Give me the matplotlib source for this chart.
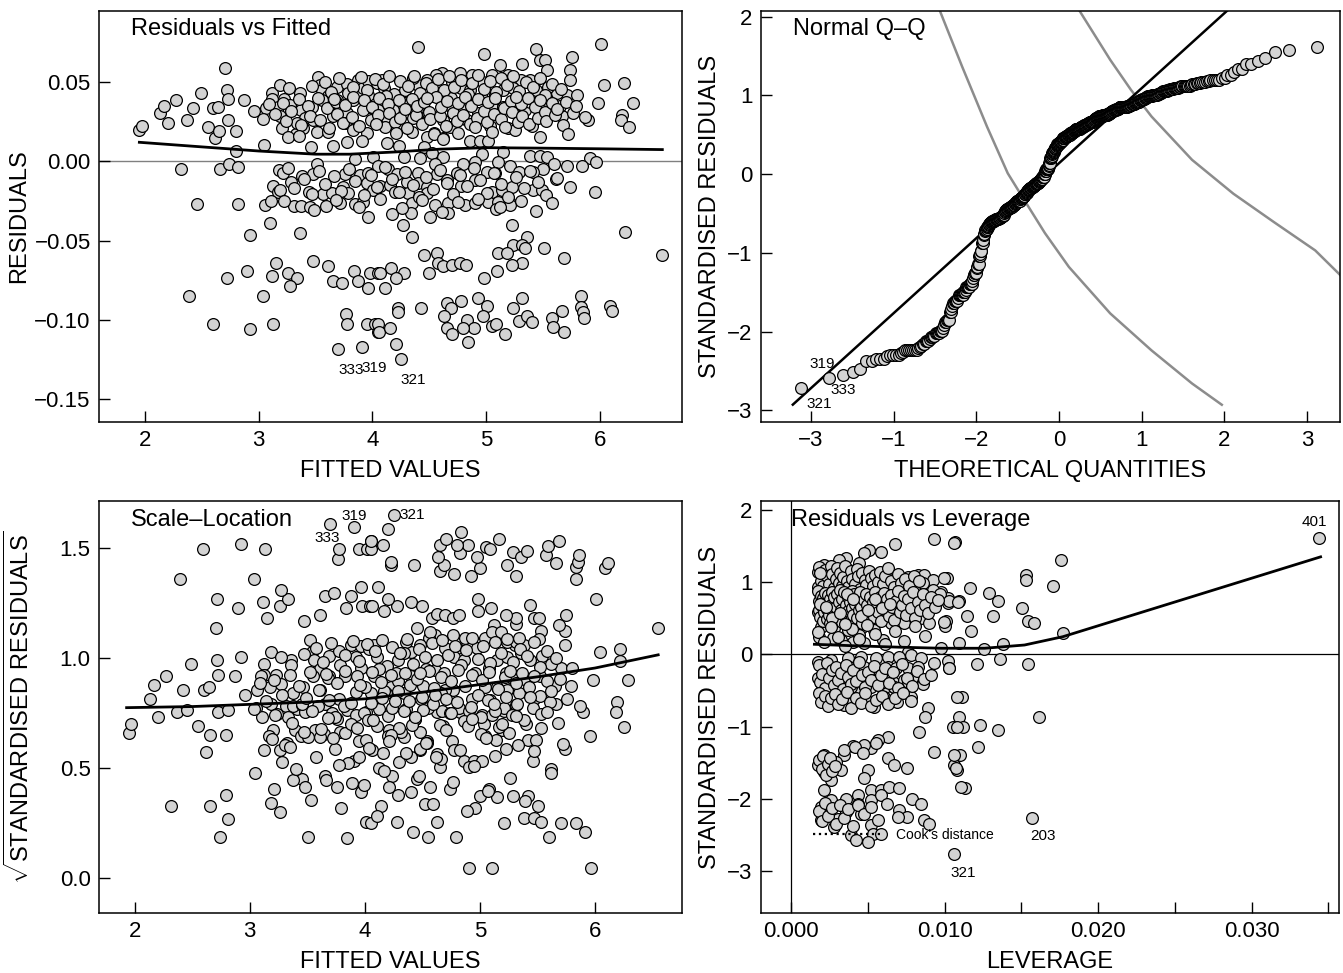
import statistics

import matplotlib

matplotlib.use("Agg")

import matplotlib.pyplot as plt
import numpy as np
from matplotlib.lines import Line2D

plt.rcParams["font.family"] = ["Liberation Sans", "DejaVu Sans"]
plt.rcParams["mathtext.fontset"] = "custom"
plt.rcParams["mathtext.rm"] = "Liberation Sans"
plt.rcParams["axes.unicode_minus"] = True

# ---- data ----
# fitted values / residuals, readable points first, then estimates for the overlapped clusters
FITTED = [
    1.950, 1.971, 2.132, 2.170, 2.205, 2.273, 2.372, 2.419, 2.492, 2.551, 2.601, 2.645, 2.616, 2.651,
    2.718, 2.727, 2.727, 2.704, 2.797, 2.797, 2.314, 2.659, 2.742, 2.815, 2.454, 2.815,
    3.061, 3.120, 3.187, 3.120, 3.173, 3.225, 3.275, 3.187, 3.202, 3.325, 3.372, 3.407, 3.393, 3.466,
    3.524, 3.539, 3.560, 3.612, 3.554, 3.612, 3.656, 3.686, 3.692, 3.774, 3.788, 3.780, 3.832, 3.876,
    3.920, 3.964, 3.964, 3.979, 4.037, 4.008, 3.950, 3.906, 3.457, 3.650, 3.510, 3.847, 4.008, 3.182,
    3.211, 3.284, 3.378, 3.481, 3.123, 3.167, 3.442, 3.563, 3.648, 3.738, 3.759, 3.788, 3.891, 3.964,
    3.950, 4.008, 3.055, 3.108, 3.313, 3.372, 3.451, 3.592, 3.715, 3.847, 3.920, 3.510, 3.334, 3.612,
    3.261, 3.481, 3.759, 3.832,
    2.923, 3.363, 3.099, 2.390, 2.718, 2.900, 3.041, 3.114, 3.152, 3.261, 3.334, 3.275, 3.475, 3.607,
    3.656, 3.735, 3.838, 3.876, 3.964, 3.979, 4.046, 2.595, 2.923, 3.129, 3.768, 3.774, 3.950, 4.023,
    4.052, 3.700, 3.906,
    4.404, 4.984, 5.439, 5.474, 5.518, 5.533, 5.753, 5.738, 5.738, 6.008, 6.040, 6.216, 6.289, 5.981,
    5.899, 6.192, 6.187, 6.257, 5.665, 5.650, 5.709, 5.797, 5.621, 5.542, 5.524, 5.439, 5.386, 5.313,
    5.307, 5.122, 5.196, 5.049, 4.976, 4.873, 4.770, 4.800, 4.697, 4.609, 4.560, 4.477, 4.404, 4.354,
    4.287, 4.082, 4.105, 4.076, 4.052, 4.170, 4.228, 4.287, 4.398, 4.486, 4.536, 4.609, 4.691, 4.779,
    4.858, 4.961, 5.049, 5.078, 5.152, 5.240, 5.284, 5.342, 5.386, 5.474, 5.401, 5.313, 5.240, 5.152,
    5.190, 5.254, 5.034, 4.932, 4.858, 4.829, 4.770, 4.697, 4.624, 4.683, 4.756, 4.624, 4.545, 4.477,
    4.433, 4.360, 4.345, 4.213, 4.126, 4.184, 4.126, 4.234, 4.457, 4.545, 4.858, 4.946, 5.020, 5.146,
    4.961, 4.281, 4.419, 4.521, 4.624, 5.386, 5.474, 5.533, 5.914, 5.967, 5.709, 5.840, 5.597, 5.504,
    5.415, 5.210, 5.107, 4.902, 4.794, 4.551, 4.404, 4.140, 4.213, 4.052, 4.067, 4.301, 4.404, 4.477,
    4.565, 4.653, 4.741, 4.779, 4.902, 5.005, 5.078, 5.049, 5.137, 5.225, 5.292, 5.415, 5.489, 5.615,
    5.738, 5.958, 4.155, 4.199, 4.316, 4.477, 4.551, 4.345, 4.668, 4.815, 4.902, 5.020, 5.107, 5.210,
    4.170, 4.340, 4.507, 4.662, 4.272, 4.345, 5.225, 5.087, 5.210, 6.222, 5.357, 5.240, 5.313, 5.342,
    5.512, 5.685, 5.108, 5.181, 5.313, 5.225, 5.093, 4.985, 4.457, 4.565, 4.580, 4.624, 4.697, 4.771,
    4.820, 4.501, 4.281, 4.164, 4.067, 4.205, 4.111, 4.779, 4.926, 5.005, 4.653, 4.691, 4.633, 4.829,
    4.976, 4.897, 4.800, 4.653, 4.703, 4.838, 5.055, 5.084, 5.166, 5.240, 5.313, 5.289, 5.357, 5.407,
    5.577, 5.591, 5.665, 5.685, 5.835, 5.835, 5.855, 5.864, 6.090, 6.110, 4.424, 4.228, 4.228, 4.052,
    4.058, 4.155, 4.205, 4.252, 6.550,
    # overlapped upper band
    3.58, 3.64, 3.71, 3.83, 3.90, 3.95, 4.02, 4.09, 4.15, 4.19, 4.24, 4.31, 4.37, 4.42, 4.47, 4.52,
    4.58, 4.63, 4.67, 4.72, 4.78, 4.84, 4.88, 4.93, 4.98, 5.03, 5.09, 5.13, 5.18, 5.24, 5.29, 5.35,
    5.41, 5.47, 5.52, 5.58, 5.66, 3.47, 3.36, 3.27, 4.12,
    # overlapped middle band
    3.14, 3.21, 3.24, 3.28, 3.35, 3.37, 3.43, 3.45, 3.52, 3.54, 3.60, 3.62, 3.68, 3.69, 3.74, 3.76,
    3.82, 3.83, 3.88, 3.92, 3.93, 3.99, 4.00, 4.05, 4.06, 4.11, 4.14, 4.15, 4.20, 4.23, 4.24, 4.29,
    4.30, 4.35, 4.38, 4.39, 4.44, 4.45, 4.50, 4.51, 4.56, 4.59, 4.60, 4.65, 4.66, 4.71, 4.74, 4.75,
    4.80, 4.81, 4.86, 4.87, 4.92, 4.93, 4.98, 5.01, 5.02, 5.07, 5.08, 5.13, 5.16, 5.17, 5.22, 5.23,
    5.28, 5.31, 5.32, 5.37, 5.38, 5.43, 5.46, 5.47, 5.52, 5.53, 5.58, 5.61, 5.62, 5.68, 5.70, 5.76,
    5.79, 5.87, 3.09, 3.04, 2.96, 2.87, 4.03, 4.48, 4.90, 5.26, 3.66,
    # overlapped band just below zero
    3.26, 3.31, 3.40, 3.47, 3.53, 3.58, 3.66, 3.72, 3.79, 3.85, 3.93, 3.99, 4.04, 4.11, 4.17, 4.23,
    4.29, 4.36, 4.41, 4.47, 4.53, 4.59, 4.66, 4.71, 4.77, 4.83, 4.89, 4.95, 5.01, 5.07, 5.13, 5.19,
    5.26, 5.33, 5.39, 5.46, 5.53, 5.62, 3.19,
    3.22, 3.49, 3.68, 3.88, 4.07, 4.26, 4.44, 4.61, 4.75, 4.93, 5.12, 5.31, 5.44, 5.58, 3.96,
    3.35, 3.78, 4.21, 4.62, 5.05, 5.47, 3.05, 5.72,
]
RESID = [
    0.0199, 0.0224, 0.0304, 0.0352, 0.0245, 0.0388, 0.0262, 0.0335, 0.0434, 0.0220, 0.0335, 0.0346, 0.0150, 0.0194,
    0.0451, 0.0392, 0.0262, 0.0592, 0.0194, 0.0066, -0.0050, -0.0050, -0.0016, -0.0033, -0.0268, -0.0268,
    0.0335, 0.0434, 0.0482, 0.0392, 0.0346, 0.0392, 0.0356, 0.0287, 0.0209, 0.0173, 0.0325, 0.0272, 0.0209, 0.0346,
    0.0535, 0.0482, 0.0451, 0.0413, 0.0388, 0.0335, 0.0287, 0.0468, 0.0388, 0.0489, 0.0430, 0.0304, 0.0388, 0.0514,
    0.0461, 0.0510, 0.0419, 0.0346, 0.0497, 0.0262, 0.0177, 0.0131, 0.0093, 0.0098, -0.0016, 0.0015, 0.0030, -0.0054,
    -0.0075, -0.0127, -0.0092, -0.0079, -0.0155, -0.0190, -0.0190, -0.0207, -0.0197, -0.0159, -0.0079, -0.0201, -0.0085, -0.0070,
    -0.0138, -0.0180, -0.0274, -0.0247, -0.0281, -0.0281, -0.0285, -0.0281, -0.0259, -0.0268, -0.0253, 0.0188, 0.0245, 0.0188,
    0.0156, 0.0262, 0.0241, 0.0199,
    -0.0463, -0.0449, -0.0386, -0.0848, -0.0737, -0.0688, -0.0848, -0.0722, -0.0638, -0.0701, -0.0737, -0.0785, -0.0625, -0.0657,
    -0.0751, -0.0768, -0.0688, -0.0751, -0.0800, -0.0701, -0.0701, -0.1025, -0.1056, -0.1025, -0.0962, -0.1025, -0.1025, -0.1025,
    -0.1073, -0.1184, -0.1168,
    0.0724, 0.0676, 0.0707, 0.0640, 0.0640, 0.0577, 0.0657, 0.0577, 0.0514, 0.0739, 0.0482, 0.0497, 0.0371, 0.0371,
    0.0262, 0.0293, 0.0262, 0.0215, 0.0287, 0.0350, 0.0419, 0.0419, 0.0434, 0.0468, 0.0388, 0.0451, 0.0514, 0.0613,
    0.0514, 0.0608, 0.0545, 0.0545, 0.0503, 0.0545, 0.0560, 0.0503, 0.0503, 0.0560, 0.0545, 0.0514, 0.0482, 0.0529,
    0.0451, 0.0514, 0.0461, 0.0388, 0.0325, 0.0325, 0.0346, 0.0367, 0.0388, 0.0304, 0.0413, 0.0409, 0.0398, 0.0461,
    0.0451, 0.0398, 0.0346, 0.0419, 0.0451, 0.0461, 0.0377, 0.0325, 0.0377, 0.0304, 0.0224, 0.0283, 0.0335, 0.0346,
    0.0209, 0.0199, 0.0224, 0.0304, 0.0251, 0.0262, 0.0335, 0.0335, 0.0262, 0.0220, 0.0177, 0.0146, 0.0177, 0.0156,
    0.0241, 0.0272, 0.0188, 0.0209, 0.0272, 0.0325, 0.0114, 0.0098, 0.0093, 0.0173, 0.0129, 0.0129, 0.0129, 0.0062,
    0.0047, 0.0030, 0.0020, 0.0052, 0.0030, 0.0034, 0.0034, 0.0030, 0.0020, -0.0001, -0.0029, -0.0029, -0.0016, -0.0050,
    -0.0064, -0.0029, -0.0001, -0.0001, -0.0016, -0.0016, -0.0071, -0.0050, -0.0079, -0.0029, -0.0155, -0.0127, -0.0138, -0.0159,
    -0.0079, -0.0117, -0.0075, -0.0155, -0.0117, -0.0064, -0.0075, -0.0190, -0.0180, -0.0159, -0.0064, -0.0180, -0.0180, -0.0113,
    -0.0159, -0.0190, -0.0148, -0.0190, -0.0201, -0.0201, -0.0274, -0.0264, -0.0264, -0.0274, -0.0264, -0.0253, -0.0253, -0.0264,
    -0.0331, -0.0323, -0.0348, -0.0323, -0.0400, -0.0478, -0.0400, -0.0302, -0.0274, -0.0447, -0.0478, -0.0526, -0.0526, -0.0547,
    -0.0543, -0.0606, -0.0575, -0.0575, -0.0638, -0.0655, -0.0688, -0.0737, -0.0590, -0.0575, -0.0642, -0.0659, -0.0655, -0.0638,
    -0.0655, -0.0701, -0.0701, -0.0674, -0.0701, -0.0737, -0.0800, -0.0878, -0.0863, -0.0911, -0.0894, -0.0926, -0.0974, -0.0999,
    -0.0974, -0.1052, -0.1052, -0.1052, -0.1088, -0.1136, -0.1037, -0.1025, -0.1088, -0.0926, -0.0863, -0.1004, -0.0974, -0.1010,
    -0.0989, -0.1041, -0.0941, -0.1073, -0.0848, -0.0915, -0.0947, -0.0989, -0.0911, -0.0941, -0.0926, -0.0926, -0.0947, -0.1025,
    -0.1073, -0.1052, -0.1151, -0.1247, -0.0590,
    0.0502, 0.0441, 0.0525, 0.0472, 0.0531, 0.0448, 0.0519, 0.0487, 0.0538, 0.0426, 0.0505, 0.0478, 0.0541, 0.0433, 0.0497, 0.0462,
    0.0521, 0.0449, 0.0536, 0.0472, 0.0511, 0.0428, 0.0492, 0.0546, 0.0455, 0.0508, 0.0437, 0.0526, 0.0481, 0.0539, 0.0444, 0.0499,
    0.0468, 0.0529, 0.0421, 0.0487, 0.0458, 0.0476, 0.0431, 0.0462, 0.0415,
    0.0298, 0.0371, 0.0254, 0.0318, 0.0392, 0.0229, 0.0351, 0.0287, 0.0403, 0.0264, 0.0336, 0.0211, 0.0378, 0.0302, 0.0245, 0.0359,
    0.0281, 0.0407, 0.0226, 0.0327, 0.0386, 0.0259, 0.0345, 0.0291, 0.0402, 0.0218, 0.0364, 0.0307, 0.0248, 0.0389, 0.0274, 0.0331,
    0.0213, 0.0397, 0.0296, 0.0352, 0.0239, 0.0375, 0.0312, 0.0268, 0.0405, 0.0288, 0.0341, 0.0222, 0.0383, 0.0305, 0.0257, 0.0366,
    0.0293, 0.0409, 0.0234, 0.0348, 0.0277, 0.0391, 0.0318, 0.0246, 0.0372, 0.0299, 0.0403, 0.0265, 0.0338, 0.0217, 0.0381, 0.0309,
    0.0252, 0.0362, 0.0286, 0.0398, 0.0238, 0.0344, 0.0274, 0.0387, 0.0315, 0.0256, 0.0369, 0.0294, 0.0333, 0.0228, 0.0376, 0.0303,
    0.0351, 0.0282, 0.0362, 0.0271, 0.0318, 0.0387, 0.0236, 0.0399, 0.0219, 0.0406, 0.0395,
    -0.0041, -0.0168, -0.0112, -0.0203, -0.0058, -0.0139, -0.0091, -0.0187, -0.0046, -0.0125, -0.0214, -0.0083, -0.0161, -0.0037, -0.0108, -0.0195,
    -0.0066, -0.0148, -0.0221, -0.0099, -0.0172, -0.0052, -0.0134, -0.0208, -0.0087, -0.0156, -0.0043, -0.0119, -0.0198, -0.0072, -0.0141, -0.0226,
    -0.0095, -0.0169, -0.0057, -0.0131, -0.0212, -0.0104, -0.0182,
    -0.0251, -0.0306, -0.0242, -0.0289, -0.0237, -0.0296, -0.0245, -0.0318, -0.0258, -0.0239, -0.0287, -0.0249, -0.0311, -0.0262, -0.0352,
    0.0162, 0.0121, 0.0178, 0.0139, 0.0186, 0.0152, 0.0105, 0.0171,
]
RESID_SCALE = 0.0458  # residual standard error, from 321: -0.1247 -> -2.72

LABELLED = {333: (3.700, -0.1184), 319: (3.906, -0.1168), 321: (4.252, -0.1247)}

SMOOTH1_X = [1.95, 2.5, 3.0, 3.5, 3.8, 4.2, 4.6, 5.0, 5.5, 6.0, 6.55]
SMOOTH1_Y = [0.0121, 0.0092, 0.0066, 0.0046, 0.0046, 0.0060, 0.0078, 0.0087, 0.0084, 0.0080, 0.0075]

SMOOTH3_X = [1.93, 2.5, 3.0, 3.5, 4.0, 4.5, 5.0, 5.5, 6.0, 6.55]
SMOOTH3_Y = [0.775, 0.780, 0.790, 0.800, 0.815, 0.845, 0.880, 0.915, 0.955, 1.015]

# reference line of the Q-Q panel
QQ_SLOPE = 0.952
QQ_INTERCEPT = 0.137
QQ_LINE_START = -3.22

COOK_A_X = [-1.44, -1.17, -0.87, -0.62, -0.42, -0.17, 0.12, 0.62, 1.12, 1.61, 1.97]
COOK_A_Y = [2.07, 1.36, 0.60, 0.01, -0.33, -0.75, -1.18, -1.77, -2.24, -2.66, -2.93]
COOK_B_X = [0.25, 0.62, 0.87, 1.12, 1.61, 2.11, 2.60, 3.10, 3.40]
COOK_B_Y = [2.07, 1.45, 1.07, 0.73, 0.18, -0.25, -0.61, -0.97, -1.28]

LEVERAGE = [
    0.01066, 0.01758, 0.01529, 0.01529, 0.01703, 0.01014, 0.01166, 0.00975, 0.01019, 0.01023, 0.01095, 0.01290,
    0.01345, 0.01501, 0.01145, 0.01312, 0.01008, 0.01001, 0.01545, 0.01584, 0.01171, 0.01768, 0.01095, 0.01377,
    0.01253, 0.01019, 0.01030, 0.01210, 0.01362, 0.01540, 0.01112, 0.01095, 0.01051, 0.01116, 0.01229, 0.01345,
    0.01616, 0.01214, 0.01101, 0.01062, 0.01080, 0.01132, 0.01566, 0.01058, 0.03437,
    0.00932, 0.01062, 0.00677, 0.00584, 0.00504, 0.00475, 0.00443, 0.00356, 0.00313, 0.00215, 0.00171, 0.00247,
    0.00291, 0.00378, 0.00204, 0.00269, 0.00334, 0.00399, 0.00454, 0.00519, 0.00573, 0.00628, 0.00688, 0.00758,
    0.00823, 0.00867, 0.00921, 0.00997, 0.00775, 0.00856, 0.00921, 0.00971, 0.01030, 0.01084, 0.00171, 0.00258,
    0.00323, 0.00399, 0.00465, 0.00551, 0.00606, 0.00649, 0.00704, 0.00758, 0.00812, 0.00877, 0.00791, 0.00845,
    0.00899, 0.00997, 0.00736, 0.00649, 0.00584, 0.00497, 0.00432, 0.00367, 0.00280, 0.00193, 0.00171, 0.00236,
    0.00313, 0.00388, 0.00454, 0.00519, 0.00193, 0.00280, 0.00367, 0.00454, 0.00541, 0.00595, 0.00182, 0.00269,
    0.00323, 0.00399, 0.00475, 0.00443, 0.00758, 0.00975,
    0.00171, 0.00258, 0.00367, 0.00454, 0.00551, 0.00628, 0.00704, 0.00780, 0.00845, 0.00932, 0.01030, 0.00215,
    0.00291, 0.00378, 0.00475, 0.00562, 0.00628, 0.00682, 0.00758, 0.00823, 0.00171, 0.00258, 0.00334, 0.00410,
    0.00497, 0.00584, 0.00660, 0.00736, 0.00801, 0.00856, 0.00215, 0.00291, 0.00367, 0.00443, 0.00519, 0.00606,
    0.00671, 0.00758,
    0.00193, 0.00280, 0.00388, 0.00475, 0.00584, 0.00671, 0.00758, 0.00856, 0.00193, 0.00280, 0.00345, 0.00399,
    0.00486, 0.00541, 0.00606, 0.00688, 0.00780, 0.00888, 0.00871, 0.01080, 0.01080, 0.00834, 0.00628, 0.00562,
    0.00519, 0.00475, 0.00399, 0.00345, 0.00215, 0.00171, 0.00236, 0.00291, 0.00323, 0.00258, 0.00215, 0.00628,
    0.00671, 0.00754, 0.00932, 0.01062, 0.00497, 0.00475, 0.01073, 0.01106, 0.00215, 0.00258, 0.00193, 0.00193,
    0.00302, 0.00356, 0.00432, 0.00519, 0.00584, 0.00638, 0.00704, 0.00356, 0.00432, 0.00519, 0.00584, 0.00623,
    0.00704, 0.00784, 0.00845, 0.00754, 0.00693, 0.00519, 0.00530, 0.00867, 0.00899, 0.00388, 0.00421, 0.00497,
    0.00584, 0.00280, 0.00454,
    # overlapped blobs
    0.00178, 0.00192, 0.00205, 0.00221, 0.00234, 0.00246, 0.00259, 0.00263, 0.00277, 0.00288, 0.00296, 0.00308,
    0.00317, 0.00329, 0.00338, 0.00351, 0.00362, 0.00371, 0.00386, 0.00394, 0.00412, 0.00426, 0.00437, 0.00449,
    0.00461, 0.00478, 0.00489, 0.00503, 0.00517, 0.00529, 0.00546, 0.00562, 0.00579, 0.00597, 0.00613, 0.00631,
    0.00652, 0.00668, 0.00694, 0.00716, 0.00741, 0.00768, 0.00797, 0.00833, 0.00186,
    0.00174, 0.00181, 0.00183, 0.00188, 0.00195, 0.00199, 0.00203, 0.00208, 0.00212, 0.00217, 0.00224, 0.00229,
    0.00233, 0.00238, 0.00244, 0.00251, 0.00255, 0.00261, 0.00266, 0.00272, 0.00279, 0.00284, 0.00291, 0.00297,
    0.00302, 0.00309, 0.00314, 0.00321, 0.00327, 0.00333, 0.00339, 0.00346, 0.00353, 0.00359, 0.00366, 0.00372,
    0.00379, 0.00386, 0.00392, 0.00398, 0.00405, 0.00411, 0.00418, 0.00426, 0.00433, 0.00441, 0.00448, 0.00456,
    0.00463, 0.00471, 0.00479, 0.00487, 0.00495, 0.00503, 0.00512, 0.00521, 0.00529, 0.00538, 0.00547, 0.00556,
    0.00566, 0.00575, 0.00585, 0.00594, 0.00604, 0.00615, 0.00625, 0.00636, 0.00647, 0.00659, 0.00671, 0.00683,
    0.00695, 0.00708, 0.00721, 0.00734, 0.00748, 0.00762, 0.00777, 0.00792, 0.00808, 0.00823, 0.00839, 0.00856,
    0.00874, 0.00893, 0.00912, 0.00934, 0.00958, 0.00185, 0.00226, 0.00268, 0.00316, 0.00361, 0.00403, 0.00451,
    0.00497, 0.00543, 0.00589, 0.00641,
    0.00176, 0.00214, 0.00257, 0.00301, 0.00348, 0.00395, 0.00442, 0.00492, 0.00548, 0.00612, 0.00677, 0.00736,
    0.00803, 0.00871, 0.00352,
    0.00177, 0.00189, 0.00201, 0.00218, 0.00232, 0.00247, 0.00262, 0.00276, 0.00293, 0.00307, 0.00322, 0.00338,
    0.00354, 0.00371, 0.00388, 0.00405, 0.00423, 0.00441, 0.00459, 0.00478, 0.00498, 0.00519, 0.00541, 0.00563,
    0.00586, 0.00611, 0.00637, 0.00664, 0.00692, 0.00722, 0.00754, 0.00787, 0.00822, 0.00866, 0.00913,
    0.00179, 0.00196, 0.00216, 0.00237, 0.00259, 0.00283, 0.00307, 0.00333, 0.00361, 0.00389, 0.00419, 0.00451,
    0.00483, 0.00517, 0.00553, 0.00591, 0.00633, 0.00678, 0.00726, 0.00781,
    0.00182, 0.00197, 0.00209, 0.00224, 0.00238, 0.00252, 0.00268, 0.00285, 0.00343, 0.00412, 0.00468, 0.00552,
    0.00183, 0.00201, 0.00219, 0.00241, 0.00264, 0.00288, 0.00315, 0.00342, 0.00371, 0.00403, 0.00437, 0.00474,
    0.00516, 0.00563,
]
STD_RESID = [
    1.551, 1.306, 1.098, 1.029, 0.951, 1.061, 0.914, 0.868, 0.775, 0.706, 0.738, 0.844,
    0.738, 0.637, 0.535, 0.535, 0.461, 0.397, 0.461, 0.429, 0.323, 0.290, 0.152, 0.143,
    0.073, -0.093, -0.194, -0.139, -0.065, -0.139, -0.587, -0.864, -1.002, -1.002, -0.979, -1.048,
    -0.864, -1.288, -1.395, -1.524, -1.602, -1.847, -2.262, -2.757, 1.615,
    1.597, 1.546, 1.523, 1.421, 1.445, 1.399, 1.260, 1.338, 1.306, 1.237, 1.145, 1.145,
    1.168, 1.168, 1.052, 1.029, 1.052, 1.075, 1.006, 1.052, 1.098, 1.052, 0.997, 1.075,
    1.098, 1.098, 1.029, 1.061, 0.960, 0.983, 0.891, 0.831, 0.738, 0.729, 0.937, 0.914,
    0.937, 0.960, 0.868, 0.960, 0.891, 0.960, 0.821, 0.729, 0.752, 0.637, 0.614, 0.498,
    0.429, 0.452, 0.429, 0.429, 0.544, 0.729, 0.775, 0.706, 0.729, 0.683, 0.591, 0.544,
    0.498, 0.452, 0.475, 0.614, 0.383, 0.360, 0.337, 0.360, 0.337, 0.198, 0.244, 0.221,
    0.198, 0.175, 0.152, 0.267, 0.037, 0.083,
    -0.102, -0.079, -0.056, -0.033, -0.056, -0.033, -0.033, -0.009, -0.056, -0.125, -0.194, -0.240,
    -0.217, -0.171, -0.171, -0.217, -0.171, -0.194, -0.194, -0.171, -0.333, -0.356, -0.310, -0.333,
    -0.310, -0.356, -0.379, -0.356, -0.310, -0.379, -0.471, -0.494, -0.448, -0.471, -0.448, -0.471,
    -0.448, -0.517,
    -0.402, -0.379, -0.448, -0.425, -0.402, -0.448, -0.379, -0.411, -0.564, -0.587, -0.702, -0.656,
    -0.633, -0.725, -0.587, -0.656, -0.587, -0.748, -0.864, -0.587, -1.002, -1.072, -1.141, -1.187,
    -1.302, -1.256, -1.270, -1.395, -1.395, -1.533, -1.533, -1.487, -1.603, -1.732, -1.626, -1.427,
    -1.533, -1.566, -1.349, -1.395, -1.603, -1.704, -1.579, -1.833, -1.880, -2.018, -2.110, -2.295,
    -2.272, -1.995, -1.949, -1.880, -1.880, -1.833, -1.843, -2.180, -2.064, -2.018, -1.949, -2.064,
    -2.157, -1.995, -2.064, -2.249, -2.249, -2.364, -2.480, -2.295, -2.341, -2.503, -2.563, -2.595,
    -2.480, -2.387, -2.203,
    1.21, 1.02, 0.94, 1.17, 1.08, 0.97, 1.23, 1.11, 0.92, 1.04, 1.19, 0.99,
    1.13, 0.95, 1.07, 1.22, 1.01, 0.93, 1.15, 1.05, 0.98, 1.18, 1.09, 0.91,
    1.12, 1.03, 0.96, 1.16, 1.06, 0.94, 1.10, 1.00, 1.14, 0.97, 1.08, 1.19,
    1.02, 0.93, 1.11, 0.99, 1.05, 0.95, 1.09, 1.01, 1.12,
    0.88, 0.74, 0.61, 0.52, 0.81, 0.67, 0.46, 0.78, 0.58, 0.85, 0.71, 0.49,
    0.63, 0.82, 0.55, 0.76, 0.44, 0.69, 0.87, 0.59, 0.79, 0.48, 0.65, 0.84,
    0.53, 0.72, 0.89, 0.62, 0.45, 0.77, 0.57, 0.86, 0.68, 0.51, 0.80, 0.60,
    0.73, 0.47, 0.88, 0.64, 0.54, 0.83, 0.70, 0.50, 0.78, 0.61, 0.87, 0.66,
    0.44, 0.75, 0.56, 0.84, 0.69, 0.49, 0.80, 0.63, 0.73, 0.52, 0.86, 0.67,
    0.58, 0.79, 0.46, 0.71, 0.85, 0.60, 0.76, 0.53, 0.82, 0.65, 0.48, 0.74,
    0.88, 0.59, 0.69, 0.81, 0.55, 0.77, 0.64, 0.86, 0.50, 0.72, 0.61, 0.83,
    0.68, 0.57, 0.79, 0.66, 0.75, 0.70, 0.66, 0.51, 0.57, 0.83, 0.76, 0.53,
    0.62, 0.77, 0.64, 0.70,
    0.31, 0.17, 0.38, 0.24, 0.12, 0.35, 0.21, 0.41, 0.28, 0.14, 0.33, 0.19,
    0.39, 0.25, 0.42,
    -0.15, -0.38, -0.27, -0.46, -0.12, -0.33, -0.22, -0.43, -0.18, -0.36, -0.26, -0.48,
    -0.14, -0.31, -0.41, -0.21, -0.37, -0.11, -0.29, -0.45, -0.24, -0.35, -0.16, -0.42,
    -0.28, -0.19, -0.39, -0.25, -0.47, -0.13, -0.32, -0.44, -0.23, -0.34, -0.28,
    -0.53, -0.66, -0.58, -0.72, -0.61, -0.55, -0.69, -0.62, -0.52, -0.74, -0.60, -0.67,
    -0.54, -0.71, -0.63, -0.57, -0.68, -0.60, -0.53, -0.65,
    -1.46, -1.58, -1.41, -1.67, -1.52, -1.44, -1.62, -1.55, -1.33, -1.28, -1.36, -1.22,
    -2.17, -2.31, -2.06, -2.24, -2.12, -2.35, -2.09, -2.27, -2.14, -2.38, -2.08, -2.21,
    -2.11, -2.29,
]
LEV_LABELLED = {401: (0.03437, 1.615), 203: (0.01566, -2.262), 321: (0.01058, -2.757)}

SMOOTH4_X = [0.0015, 0.004, 0.007, 0.0098, 0.0126, 0.0152, 0.0177, 0.0345]
SMOOTH4_Y = [0.14, 0.12, 0.10, 0.085, 0.085, 0.13, 0.245, 1.35]

QQ_TICKS = [-3, -2, -1, 0, 1, 2, 3]
QQ_TICK_LABELS = ["\u22123", "\u22121", "\u22122", "0", "1", "2", "3"]

PT_STYLE = dict(s=72, facecolor="#d3d3d3", edgecolor="black", linewidths=0.9, zorder=3)
LABEL_FS = 11
TICK_FS = 16
AXLABEL_FS = 17
TITLE_FS = 17


def style_axes(ax):
    for sp in ax.spines.values():
        sp.set_linewidth(1.1)
    ax.tick_params(direction="in", length=8, width=1, top=False, right=False,
                   labelsize=TICK_FS, pad=6)


def corner_title(ax, text):
    ax.text(0.055, 0.955, text, transform=ax.transAxes, fontsize=TITLE_FS,
            ha="left", va="center", zorder=5)


fitted = np.array(FITTED)
resid = np.array(RESID)
std = resid / RESID_SCALE

fig = plt.figure(figsize=(13.43, 9.73), dpi=100)
W, H = 1343.0, 973.0


def add_ax(left, top, right, bottom):
    return fig.add_axes([left / W, 1 - bottom / H, (right - left) / W, (bottom - top) / H])


ax1 = add_ax(99, 11, 682, 422)
ax2 = add_ax(761, 11, 1340, 422)
ax3 = add_ax(99, 501, 682, 913)
ax4 = add_ax(761, 501, 1339, 913)

# ---- Residuals vs Fitted ----
ax1.axhline(0, color="#808080", lw=1.0, zorder=1)
ax1.scatter(fitted, resid, **PT_STYLE)
ax1.plot(SMOOTH1_X, SMOOTH1_Y, color="black", lw=2.0, zorder=4)
for lab, (fx, ry) in LABELLED.items():
    ax1.annotate(str(lab), (fx, ry), xytext=(9, -15), textcoords="offset points",
                 fontsize=LABEL_FS, ha="center", va="center")
ax1.set_xlim(1.595, 6.723)
ax1.set_ylim(-0.1643, 0.0949)
ax1.set_xticks([2, 3, 4, 5, 6])
ax1.set_yticks([0.05, 0.0, -0.05, -0.10, -0.15])
ax1.set_yticklabels(["0.05", "0.00", "\u22120.05", "\u22120.10", "\u22120.15"])
ax1.set_xlabel("FITTED VALUES", fontsize=AXLABEL_FS, labelpad=6)
ax1.set_ylabel("RESIDUALS", fontsize=AXLABEL_FS)
ax1.yaxis.set_label_coords(-0.118, 0.5)
corner_title(ax1, "Residuals vs Fitted")
style_axes(ax1)

# ---- Normal Q-Q ----
order = np.argsort(std)
n = len(std)
nd = statistics.NormalDist()
theo = np.array([nd.inv_cdf((i + 0.5) / n) for i in range(n)])
sample = std[order]
lx = np.array([QQ_LINE_START, 3.4])
ax2.plot(COOK_A_X, COOK_A_Y, color="#8c8c8c", lw=1.8, zorder=1)
ax2.plot(COOK_B_X, COOK_B_Y, color="#8c8c8c", lw=1.8, zorder=1)
ax2.plot(lx, QQ_INTERCEPT + QQ_SLOPE * lx, color="black", lw=1.8, zorder=2)
ax2.scatter(theo, sample, **PT_STYLE)
ax2.annotate("321", (theo[0], sample[0]), xytext=(13, -11), textcoords="offset points",
             fontsize=LABEL_FS, ha="center", va="center")
ax2.annotate("333", (theo[1], sample[1]), xytext=(10, -9), textcoords="offset points",
             fontsize=LABEL_FS, ha="center", va="center")
ax2.annotate("319", (theo[2], sample[2]), xytext=(-15, 8), textcoords="offset points",
             fontsize=LABEL_FS, ha="center", va="center")
ax2.set_xlim(-3.605, 3.40)
ax2.set_ylim(-3.149, 2.07)
ax2.set_xticks(QQ_TICKS)
ax2.set_xticklabels(QQ_TICK_LABELS)
ax2.set_yticks([2, 1, 0, -1, -2, -3])
ax2.set_xlabel("THEORETICAL QUANTITIES", fontsize=AXLABEL_FS, labelpad=6)
corner_title(ax2, "Normal Q\u2013Q")
style_axes(ax2)

# ---- Scale-Location ----
ax3.scatter(fitted, np.sqrt(np.abs(std)), **PT_STYLE)
ax3.plot(SMOOTH3_X, SMOOTH3_Y, color="black", lw=2.0, zorder=4)
sl_off = {333: (-2, -10), 319: (0, 8), 321: (13, 0)}
for lab, (fx, ry) in LABELLED.items():
    ax3.annotate(str(lab), (fx, np.sqrt(abs(ry / RESID_SCALE))), xytext=sl_off[lab],
                 textcoords="offset points", fontsize=LABEL_FS, ha="center", va="center")
ax3.set_xlim(1.69, 6.757)
ax3.set_ylim(-0.158, 1.714)
ax3.set_xticks([2, 3, 4, 5, 6])
ax3.set_yticks([0.0, 0.5, 1.0, 1.5])
ax3.set_yticklabels(["0.0", "0.5", "1.0", "1.5"])
ax3.set_xlabel("FITTED VALUES", fontsize=AXLABEL_FS, labelpad=6)
ax3.set_ylabel(r"$\sqrt{\mathrm{STANDARDISED\ RESIDUALS}}$", fontsize=AXLABEL_FS)
ax3.yaxis.set_label_coords(-0.112, 0.5)
corner_title(ax3, "Scale\u2013Location")
style_axes(ax3)

# ---- Residuals vs Leverage ----
ax4.axhline(0, color="black", lw=0.9, zorder=1)
ax4.axvline(0, color="black", lw=0.9, zorder=1)
ax4.scatter(LEVERAGE, STD_RESID, **PT_STYLE)
ax4.plot(SMOOTH4_X, SMOOTH4_Y, color="black", lw=2.0, zorder=4)
lev_off = {401: (-3, 11), 203: (8, -13), 321: (7, -14)}
for lab, (lv, sr) in LEV_LABELLED.items():
    ax4.annotate(str(lab), (lv, sr), xytext=lev_off[lab], textcoords="offset points",
                 fontsize=LABEL_FS, ha="center", va="center")
ax4.legend(handles=[Line2D([], [], color="black", ls=":", lw=1.6)], labels=["Cook's distance"],
           loc="center left", bbox_to_anchor=(0.09, 0.19), frameon=False, fontsize=10,
           handlelength=5.0, handletextpad=1.0, borderpad=0, borderaxespad=0)
ax4.set_xlim(-0.00198, 0.0357)
ax4.set_ylim(-3.579, 2.123)
ax4.set_xticks([0.0, 0.010, 0.020, 0.030])
ax4.set_xticklabels(["0.000", "0.010", "0.020", "0.030"])
ax4.set_xticks([0.005, 0.015, 0.025, 0.035], minor=True)
ax4.set_yticks([2, 1, 0, -1, -2, -3])
ax4.set_xlabel("LEVERAGE", fontsize=AXLABEL_FS, labelpad=6)
ax4.text(0.052, 0.955, "Residuals vs Leverage", transform=ax4.transAxes, fontsize=TITLE_FS,
         ha="left", va="center", zorder=5)
style_axes(ax4)
ax4.tick_params(which="minor", direction="in", length=8, width=1, top=False)

for ax in (ax2, ax4):
    ax.set_ylabel("STANDARDISED RESIDUALS", fontsize=AXLABEL_FS)
    ax.yaxis.set_label_coords(-0.069, 0.5)
    ax.set_yticklabels([str(t).replace("-", "\u2212") for t in [2, 1, 0, -1, -2, -3]])

fig.savefig("out.png", dpi=100)
